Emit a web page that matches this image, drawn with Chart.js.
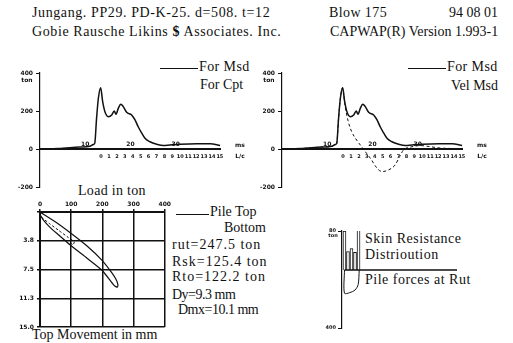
<!DOCTYPE html>
<html>
<head>
<meta charset="utf-8">
<script src="https://cdn.jsdelivr.net/npm/chart.js@4/dist/chart.umd.min.js"></script>
<style>
body { margin: 0; background: #fff; width: 513px; height: 343px; position: relative; overflow: hidden; font-family: "Liberation Serif", serif; color: #111; }
.t { position: absolute; white-space: nowrap; font-size: 14px; line-height: 14px; }
.c { position: absolute; }
.ln { position: absolute; height: 0; border-top: 1px solid #111; }
.wide { letter-spacing: 0.6px; }
.ton { letter-spacing: 1px; }
.mm { letter-spacing: -0.5px; }
</style>
</head>
<body>
<div class="t wide" style="left:32px;top:6px">Jungang. PP29. PD-K-25. d=508. t=12</div>
<div class="t" style="left:329px;top:6px;letter-spacing:0.4px">Blow 175</div>
<div class="t" style="right:15px;top:6px">94 08 01</div>
<div class="t wide" style="left:32px;top:25px">Gobie Rausche Likins <b>$</b> Associates. Inc.</div>
<div class="t" style="left:330px;top:25px">CAPWAP(R) Version 1.993-1</div>

<div class="ln" style="left:160px;top:68px;width:38px"></div>
<div class="t" style="left:199px;top:60px;letter-spacing:0.4px">For Msd</div>
<div class="t" style="left:200px;top:78px">For Cpt</div>
<div class="ln" style="left:408px;top:68px;width:38px"></div>
<div class="t" style="left:447px;top:60px;letter-spacing:0.4px">For Msd</div>
<div class="t" style="left:451px;top:79px">Vel Msd</div>

<div class="t" style="left:78px;top:184px;letter-spacing:0.3px">Load in ton</div>
<div class="ln" style="left:176px;top:214px;width:33px"></div>
<div class="t" style="left:210px;top:205px">Pile Top</div>
<div class="t" style="left:224px;top:221px">Bottom</div>
<div class="t ton" style="left:172px;top:238px">rut=247.5 ton</div>
<div class="t ton" style="left:172px;top:255px">Rsk=125.4 ton</div>
<div class="t ton" style="left:172px;top:270px">Rto=122.2 ton</div>
<div class="t mm" style="left:172px;top:288px">Dy=9.3 mm</div>
<div class="t mm" style="left:178px;top:303px">Dmx=10.1 mm</div>
<div class="t" style="left:32px;top:328px">Top Movement in mm</div>
<div class="t" style="left:365px;top:232px;letter-spacing:0.5px">Skin Resistance</div>
<div class="t" style="left:365px;top:248px;letter-spacing:0.5px">Distrioution</div>
<div class="t" style="left:365px;top:273px;letter-spacing:0.5px">Pile forces at Rut</div>

<canvas id="forCpt" class="c" width="255" height="140" style="left:0;top:60px"></canvas>
<canvas id="velMsd" class="c" width="271" height="140" style="left:242px;top:60px"></canvas>
<canvas id="loadMove" class="c" width="172" height="140" style="left:0;top:198px"></canvas>
<canvas id="skinDist" class="c" width="160" height="115" style="left:300px;top:220px"></canvas>

<script>
// force / velocity records (time in ms, force in ton)
const timeMs = [0, 4, 8.8, 11, 11.8, 12.1, 12.5, 12.9, 13.4, 13.85, 14.35, 15.1, 15.85, 16.4, 16.8, 17.3, 17.85, 18.4, 19.15, 20.25, 21, 21.7, 22.5, 23.2, 24.3, 25.8, 27.25, 28.7, 30.9, 34.6, 37.6, 39.8];
const forceMsd = [0, 2, 10, 14, 24, 30, 161, 267, 323, 249, 196, 170, 179, 200, 183, 214, 235, 223, 193, 179, 153, 117, 83, 56, 38, 25, 18, 21, 25, 28, 28, 18];
const velTimeMs = [0, 4, 8.8, 11, 11.8, 12.1, 12.5, 12.9, 13.4, 13.9, 14.65, 15.4, 16.5, 17.6, 18.7, 19.8, 20.8, 22.1, 23.55, 25, 26, 26.85, 28.4, 30.6, 32.8, 35, 40];
const velMsd = [0, 2, 10, 14, 24, 30, 161, 267, 323, 232, 144, 91, 47, 12, -23, -58, -95, -119, -110, -84, -40, -5, 10, 18, 12, 5, 2];

const yTicks = [-200, 0, 200, 400];
const yTickLabels = ['-200', '0', '200', '400'];
const msTicks = [10, 20, 30];
const lcLabels = ['0', '1', '2', '3', '4', '5', '6', '7', '8', '9', '10', '11', '12', '13', '14', '15'];
const lcStart = 13.5, lcStep = 1.75;

// load - movement loops
const pileTopLoad = [0, 50, 97, 150, 199, 230, 244, 250, 248, 238, 199, 150, 97, 60, 32, 11, 4, 0];
const pileTopMove = [0, 1.3, 2.7, 4.4, 6.3, 7.9, 8.8, 9.5, 9.8, 9.6, 7.6, 6.0, 4.3, 3.0, 2.0, 1.05, 0.6, 0.4];
const pileBotLoad = [5, 30, 60, 90, 110, 105, 100, 98];
const pileBotMove = [0.7, 1.5, 2.4, 3.3, 3.9, 4.3, 4.1, 3.8];
const loadTicks = [0, 100, 200, 300, 400];
const loadTickLabels = ['0', '100', '200', '300', '400'];
const moveTicks = [0, 3.75, 7.5, 11.25, 15];
const moveTickLabels = ['', '3.8', '7.5', '11.3', '15.0'];

// skin resistance distribution / pile forces at Rut
const segX = [0, 1, 2, 3, 4];
const skinRes = [80, 38, 44, 36, 88];
const forceDepth = [0, 0, 1.5, 3, 3.9, 4.2];
const forceRut = [0, -160, -156, -138, -100, 0];
const skinAxisTicks = [-119, 80];
const skinAxisLabels = ['400', '80'];

const ink = '#111';
const tiny = size => ({ size, weight: 'bold', family: 'DejaVu Sans' });
const pts = (xs, ys) => xs.map((v, i) => ({ x: v, y: ys[i] }));

function yAxis(min, max, ticks, labels, width) {
    return {
        min, max,
        afterBuildTicks: s => { s.ticks = ticks.map(v => ({ value: v })); },
        afterFit: s => { s.width = width; },
        ticks: { color: ink, font: tiny(6), padding: 3, callback: (v, i) => labels[i] },
        grid: { drawOnChartArea: false, tickLength: 4, color: ink },
        border: { color: ink, width: 1.2 }
    };
}

const timeAxisPlugin = {
    id: 'timeAxis',
    afterDatasetsDraw(chart) {
        const { ctx, scales: { x, y } } = chart;
        const y0 = y.getPixelForValue(0);
        ctx.save();
        ctx.strokeStyle = ink;
        ctx.lineWidth = 2;
        ctx.beginPath();
        ctx.moveTo(x.getPixelForValue(x.min), y0);
        ctx.lineTo(x.getPixelForValue(x.max), y0);
        ctx.stroke();
        ctx.fillStyle = ink;
        ctx.textAlign = 'center';
        ctx.font = 'bold 6px "DejaVu Sans"';
        ctx.textBaseline = 'alphabetic';
        msTicks.forEach(v => ctx.fillText(String(v), x.getPixelForValue(v), y0 - 3));
        ctx.font = 'bold 5px "DejaVu Sans"';
        ctx.textBaseline = 'middle';
        lcLabels.forEach((l, i) => ctx.fillText(l, x.getPixelForValue(lcStart + i * lcStep), y0 + 8));
        ctx.font = 'bold 6px "DejaVu Sans"';
        ctx.fillText('ms', x.right + 19, y0 - 4);
        ctx.fillText('L/c', x.right + 19, y0 + 7);
        ctx.fillText('ton', x.left - 13, y.top + 7);
        ctx.restore();
    }
};

function timeChart(id, datasets, padRight) {
    new Chart(document.getElementById(id), {
        type: 'scatter',
        data: { datasets },
        options: {
            responsive: false, animation: false, devicePixelRatio: 1,
            layout: { padding: { top: 13, bottom: 13, right: padRight, left: 0 } },
            plugins: { legend: { display: false }, tooltip: { enabled: false } },
            scales: {
                x: { type: 'linear', min: 0, max: 40, display: false },
                y: yAxis(-200, 400, yTicks, yTickLabels, 40)
            }
        },
        plugins: [timeAxisPlugin]
    });
}

const forceLine = {
    data: pts(timeMs, forceMsd), showLine: true, borderColor: ink, borderWidth: 1.5,
    pointRadius: 0, tension: 0.3, cubicInterpolationMode: 'monotone'
};

timeChart('forCpt', [forceLine], 34);
timeChart('velMsd', [
    { ...forceLine },
    {
        data: pts(velTimeMs, velMsd), showLine: true, borderColor: ink, borderWidth: 1,
        borderDash: [3, 2.5], pointRadius: 0, tension: 0.3, cubicInterpolationMode: 'monotone'
    }
], 50);

new Chart(document.getElementById('loadMove'), {
    type: 'scatter',
    data: {
        datasets: [
            { data: pts(pileTopLoad, pileTopMove), showLine: true, borderColor: ink, borderWidth: 1.2, pointRadius: 0, tension: 0.2 },
            { data: pts(pileBotLoad, pileBotMove), showLine: true, borderColor: ink, borderWidth: 1, borderDash: [2.5, 2], pointRadius: 0, tension: 0.2 }
        ]
    },
    options: {
        responsive: false, animation: false, devicePixelRatio: 1,
        layout: { padding: { top: 0, bottom: 11, right: 7, left: 0 } },
        plugins: { legend: { display: false }, tooltip: { enabled: false } },
        scales: {
            x: {
                type: 'linear', position: 'top', min: 0, max: 400,
                afterBuildTicks: s => { s.ticks = loadTicks.map(v => ({ value: v })); },
                afterFit: s => { s.height = 14; },
                ticks: { color: ink, font: tiny(6), padding: 1, maxRotation: 0, callback: (v, i) => loadTickLabels[i] },
                grid: { color: ink, lineWidth: 1.5, tickLength: 3 },
                border: { color: ink, width: 2 }
            },
            y: {
                reverse: true, min: 0, max: 15,
                afterBuildTicks: s => { s.ticks = moveTicks.map(v => ({ value: v })); },
                afterFit: s => { s.width = 40; },
                ticks: { color: ink, font: tiny(6), padding: 3, callback: (v, i) => moveTickLabels[i] },
                grid: { color: ink, lineWidth: 1.5, tickLength: 3 },
                border: { color: ink, width: 2 }
            }
        }
    }
});

const skinAxisPlugin = {
    id: 'skinAxis',
    afterDatasetsDraw(chart) {
        const { ctx, scales: { x, y } } = chart;
        const y0 = y.getPixelForValue(0);
        ctx.save();
        ctx.strokeStyle = ink;
        ctx.lineWidth = 1.5;
        ctx.beginPath();
        ctx.moveTo(x.getPixelForValue(0), y0);
        ctx.lineTo(x.getPixelForValue(32), y0);
        ctx.stroke();
        ctx.fillStyle = ink;
        ctx.font = 'bold 5px "DejaVu Sans"';
        ctx.textAlign = 'center';
        ctx.textBaseline = 'middle';
        ctx.fillText('ton', x.left - 9, y.top + 5);
        ctx.restore();
    }
};

new Chart(document.getElementById('skinDist'), {
    type: 'bar',
    data: {
        datasets: [
            {
                type: 'bar', data: pts(segX, skinRes), yAxisID: 'y', backgroundColor: '#fff',
                borderColor: ink, borderWidth: 1, borderSkipped: 'bottom', barThickness: 3
            },
            {
                type: 'line', data: pts(forceDepth, forceRut), yAxisID: 'y2', borderColor: ink,
                borderWidth: 1, pointRadius: 0, tension: 0.3
            }
        ]
    },
    options: {
        responsive: false, animation: false, devicePixelRatio: 1,
        layout: { padding: { top: 11, bottom: 7, right: 3, left: 0 } },
        plugins: { legend: { display: false }, tooltip: { enabled: false } },
        scales: {
            x: { type: 'linear', min: -0.7, max: 32, display: false, offset: false },
            y: { ...yAxis(-119, 80, skinAxisTicks, skinAxisLabels, 42), ticks: { color: ink, font: tiny(5), padding: 2, callback: (v, i) => skinAxisLabels[i] } },
            y2: { min: -400, max: 269, display: false }
        }
    },
    plugins: [skinAxisPlugin]
});
</script>
</body>
</html>
